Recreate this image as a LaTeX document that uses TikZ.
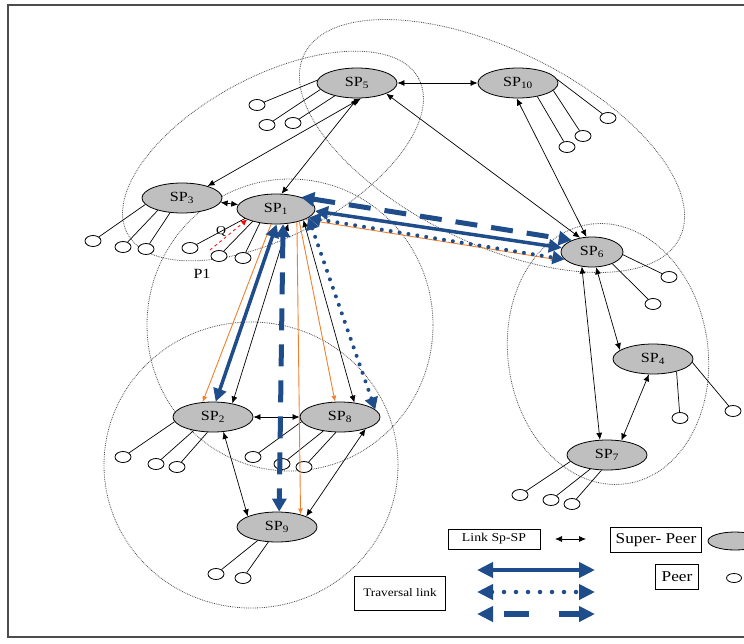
\documentclass[tikz,border=0pt]{standalone}
\usepackage{fontspec}
\setmainfont{Liberation Serif}[FakeStretch=1.15]
\usetikzlibrary{arrows.meta,shapes.geometric}
\definecolor{travblue}{RGB}{31,76,138}
\definecolor{askorange}{RGB}{240,128,45}
\begin{document}
\begin{tikzpicture}[x=1pt, y=-1pt, >={Latex[length=7pt,width=6pt]},
  sp/.style={draw, ellipse, fill=black!25, line width=0.8pt, minimum width=80pt, minimum height=30pt, inner sep=0pt, font=\fontsize{14}{16}\selectfont},
  peer/.style={draw, ellipse, fill=white, line width=0.8pt, minimum width=16pt, minimum height=11pt, inner sep=0pt},
  cluster/.style={gray!60!black, line width=0.8pt, dash pattern=on 0.8pt off 1pt},
  link/.style={<->, line width=0.7pt},
  plink/.style={line width=0.7pt},
  ask/.style={askorange, line width=0.9pt, arrows=-{Latex[length=6pt,width=5pt]}},
  tsolid/.style={travblue, line width=3.5pt, arrows={Triangle[length=13pt,width=13pt]-Triangle[length=13pt,width=13pt]}},
  tdot/.style={travblue, line width=4pt, line cap=round, dash pattern=on 0pt off 9pt, arrows={Triangle[length=12pt,width=13pt]-Triangle[length=12pt,width=13pt]}},
  tdash/.style={travblue, line width=5pt, dash pattern=on 22pt off 14pt, arrows={Triangle[length=13pt,width=14pt]-Triangle[length=13pt,width=14pt]}},
  legbox/.style={draw, line width=0.8pt, inner sep=2pt}]
\useasboundingbox (0,0) rectangle (744,643);
\clip (0,0) rectangle (744,643);
\draw[line width=1.2pt, black!70] (8,5) rectangle (770,637);

% clusters
\draw[cluster, rotate around={28:(273,156)}] (273,156) ellipse [x radius=165pt, y radius=80pt];
\draw[cluster, rotate around={-26:(492,146)}] (492,146) ellipse [x radius=209pt, y radius=97pt];
\draw[cluster] (290,325) ellipse [x radius=143pt, y radius=146pt];
\draw[cluster] (251,465) ellipse [x radius=147pt, y radius=143pt];
\draw[cluster, rotate around={8:(608,354)}] (608,354) ellipse [x radius=100pt, y radius=131pt];

% super-peers
\node[sp] (sp5) at (357,83) {SP\textsubscript{5}};
\node[sp] (sp10) at (518,83) {SP\textsubscript{10}};
\node[sp] (sp3) at (182,198) {SP\textsubscript{3}};
\node[sp, minimum width=78pt] (sp1) at (276,209) {SP\textsubscript{1}};
\node[sp, minimum width=62pt] (sp6) at (592,252) {SP\textsubscript{6}};
\node[sp] (sp4) at (653,359) {SP\textsubscript{4}};
\node[sp] (sp7) at (607,455) {SP\textsubscript{7}};
\node[sp] (sp2) at (213,417) {SP\textsubscript{2}};
\node[sp] (sp8) at (340,417) {SP\textsubscript{8}};
\node[sp] (sp9) at (277,527) {SP\textsubscript{9}};

% peers
\node[peer] (p5a) at (257,105) {};
\node[peer] (p5b) at (267,125) {};
\node[peer] (p5c) at (293,123) {};
\node[peer] (p10a) at (608,118) {};
\node[peer] (p10b) at (583,136) {};
\node[peer] (p10c) at (567,147) {};
\node[peer] (p3a) at (93,241) {};
\node[peer] (p3b) at (123,247) {};
\node[peer] (p3c) at (146,249) {};
\node[peer] (p1a) at (190,248) {};
\node[peer] (p1b) at (219,256) {};
\node[peer] (p1c) at (243,258) {};
\node[peer] (p2a) at (123,457) {};
\node[peer] (p2b) at (156,464) {};
\node[peer] (p2c) at (177,467) {};
\node[peer] (p8a) at (253,457) {};
\node[peer] (p8b) at (282,464) {};
\node[peer] (p8c) at (304,467) {};
\node[peer] (p9a) at (216,574) {};
\node[peer] (p9b) at (243,578) {};
\node[peer] (p6a) at (669,277) {};
\node[peer] (p6b) at (653,304) {};
\node[peer] (p4a) at (680,418) {};
\node[peer] (p4b) at (733,411) {};
\node[peer] (p7a) at (520,495) {};
\node[peer] (p7b) at (551,500) {};
\node[peer] (p7c) at (572,504) {};

\draw[plink] (sp5.176) -- (p5a);
\draw[plink] (sp5.190) -- (p5b);
\draw[plink] (sp5.210) -- (p5c);
\draw[plink] (sp10.5) -- (p10a);
\draw[plink] (sp10.-12) -- (p10b);
\draw[plink] (sp10.-35) -- (p10c);
\draw[plink] (sp3.190) -- (p3a);
\draw[plink] (sp3.207) -- (p3b);
\draw[plink] (sp3.231) -- (p3c);
\draw[plink] (sp1.197) -- (p1a);
\draw[plink] (sp1.208) -- (p1b);
\draw[plink] (sp1.221) -- (p1c);
\draw[plink] (sp2.187) -- (p2a);
\draw[plink] (sp2.215) -- (p2b);
\draw[plink] (sp2.250) -- (p2c);
\draw[plink] (sp8.187) -- (p8a);
\draw[plink] (sp8.220) -- (p8b);
\draw[plink] (sp8.255) -- (p8c);
\draw[plink] (sp9.215) -- (p9a);
\draw[plink] (sp9.240) -- (p9b);
\draw[plink] (sp6.-5) -- (p6a);
\draw[plink] (sp6.-30) -- (p6b);
\draw[plink] (sp4.-28) -- (p4a);
\draw[plink] (sp4.-5) -- (p4b);
\draw[plink] (sp7.190) -- (p7a);
\draw[plink] (sp7.220) -- (p7b);
\draw[plink] (sp7.250) -- (p7c);

% links between super-peers
\draw[link] (sp5) -- (sp10);
\draw[link] (sp5.-75) -- (sp3.25);
\draw[link] (sp5.-88) -- (sp1.70);
\draw[link] (sp5.-20) -- (sp6.130);
\draw[link] (sp10.-95) -- (sp6.110);
\draw[link] (sp3) -- (sp1);
\draw[link] (sp1.-50) -- (sp2.35);
\draw[link] (sp1.-22) -- (sp8.45);
\draw[link] (sp2) -- (sp8);
\draw[link] (sp2.-55) -- (sp9.160);
\draw[link] (sp8.-25) -- (sp9.20);
\draw[link] (sp6.-125) -- (sp7.115);
\draw[link] (sp6.-75) -- (sp4.165);
\draw[link] (sp4.-105) -- (sp7.45);

% query
\draw[ask] (sp1.-108) -- (sp2.125);
\draw[ask] (sp1.-32) -- (sp9.28);
\draw[ask] (sp1.-28) -- (sp8.108);
\draw[ask, shorten >=10pt] (sp1.-20) -- (sp6.200);
\coordinate (qs) at (210,250);
\draw[red, dashed, line width=0.8pt, arrows=-{Latex[length=6pt,width=6pt]}] (qs) -- (sp1.200);
\node[font=\fontsize{12}{14}\selectfont] (q) at (221,231) {Q};
\node[font=\fontsize{14}{16}\selectfont] (p1) at (202,274) {P1};

% traversal
\draw[tsolid] (sp1.-88) -- (sp2.80);
\draw[tsolid] (sp1.-3) -- (sp6.172);
\draw[tdash] (sp1.-65) -- (sp9.82);
\draw[tdash] (sp1.25) -- (sp6.150);
\draw[tdot] (sp1.-15) -- (sp8.12);
\draw[tdot] (sp1.-15) -- (sp6.195);

% legend
\node[legbox, font=\fontsize{12}{14}\selectfont, minimum width=92pt, minimum height=20pt] (linkbox) at (494,539) {Link Sp-SP};
\coordinate (la) at (555,539);
\coordinate (lb) at (586,539);
\draw[link] (la) -- (lb);
\node[legbox, font=\fontsize{15}{17}\selectfont, minimum width=91pt, minimum height=25pt, inner sep=1pt] (spbox) at (656,540) {Super- Peer};
\node[sp, minimum width=54pt, minimum height=18pt] (legsp) at (735,541) {};
\node[legbox, font=\fontsize{15}{17}\selectfont, minimum width=43pt, minimum height=25pt, inner sep=1pt] (peerbox) at (677,577) {Peer};
\node[peer, minimum width=15pt, minimum height=9pt] (legpeer) at (734,578) {};
\node[legbox, font=\fontsize{11.5}{14}\selectfont, minimum width=91pt, minimum height=34pt] (travbox) at (400,593) {Traversal link};
\coordinate (ta) at (477,570);
\coordinate (tb) at (595,570);
\coordinate (tc) at (477,592);
\coordinate (td) at (595,592);
\coordinate (te) at (477,614);
\coordinate (tf) at (595,614);
\draw[tsolid, line width=4.5pt, arrows={Triangle[length=16pt,width=15pt]-Triangle[length=16pt,width=15pt]}] (ta) -- (tb);
\draw[tdot, line width=4.5pt, dash pattern=on 0pt off 12pt, arrows={Triangle[length=16pt,width=15pt]-Triangle[length=16pt,width=15pt]}] (tc) -- (td);
\draw[tdash, line width=6pt, dash pattern=on 0pt off 12pt on 25pt off 18pt, arrows={Triangle[length=16pt,width=15pt]-Triangle[length=16pt,width=15pt]}] (te) -- (tf);

\end{tikzpicture}
\end{document}
